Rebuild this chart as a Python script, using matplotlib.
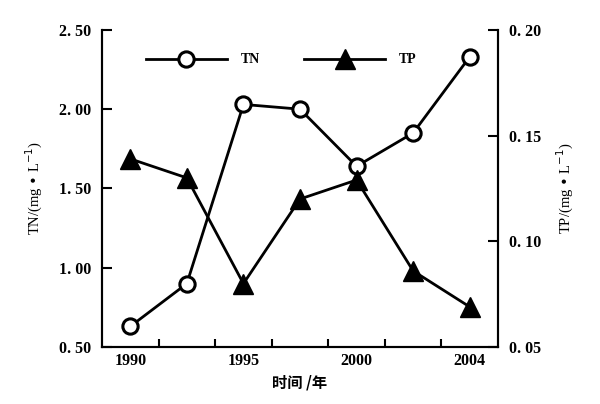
import matplotlib
matplotlib.use("Agg")
import matplotlib.pyplot as plt

years = ["1990", "", "1995", "", "2000", "", "2004"]
tn = [0.63, 0.90, 2.03, 2.00, 1.64, 1.85, 2.33]
tp = [0.139, 0.130, 0.080, 0.120, 0.129, 0.086, 0.069]
tn_ticks = [0.5, 1.0, 1.5, 2.0, 2.5]
tn_labels = ["0. 50", "1. 00", "1. 50", "2. 00", "2. 50"]
tp_ticks = [0.05, 0.10, 0.15, 0.20]
tp_labels = ["0. 05", "0. 10", "0. 15", "0. 20"]

plt.rcParams["font.family"] = ["Liberation Serif", "Noto Sans CJK SC"]

fig = plt.figure(figsize=(6, 4.04), dpi=100)
ax = fig.add_axes([0.17, 0.141, 0.66, 0.785])
ax2 = ax.twinx()

x = list(range(len(tn)))
l1, = ax.plot(x, tn, "k-", lw=2, marker="o", ms=11, mfc="white", mec="black", mew=2.2)
l2, = ax2.plot(x, tp, "k-", lw=2, marker="^", ms=14, mfc="black", mec="black")

ax.set_xlim(-0.5, 6.5)
ax.set_ylim(0.5, 2.5)
ax2.set_ylim(0.05, 0.20)

ax.set_xticks(x)
ax.set_xticklabels(years, fontsize=11.5, fontweight="bold")
ax.tick_params(axis="x", which="major", length=0, pad=4)
ax.set_xticks([i + 0.5 for i in range(6)], minor=True)
ax.tick_params(axis="x", which="minor", direction="in", length=6, width=1.5)

ax.set_yticks(tn_ticks)
ax.set_yticklabels(tn_labels, fontsize=11.5, fontweight="bold")
ax.tick_params(axis="y", direction="in", length=7, width=1.5, pad=8)
ax2.set_yticks(tp_ticks)
ax2.set_yticklabels(tp_labels, fontsize=11.5, fontweight="bold")
ax2.tick_params(axis="y", direction="in", length=7, width=1.5, pad=8)

for a in (ax, ax2):
    a.spines["top"].set_visible(False)
    for s in ("left", "right", "bottom"):
        a.spines[s].set_linewidth(1.5)

ax.set_ylabel("TN/(mg • L$^{-1}$)", fontsize=10.5, labelpad=10)
ax2.set_ylabel("TP/(mg • L$^{-1}$)", fontsize=10.5, labelpad=10)
ax.set_xlabel("时间 /年", fontsize=11, fontweight="bold", family="Noto Sans CJK SC", labelpad=4)

leg = ax.legend([l1, l2], ["TN", "TP"], loc="upper left", bbox_to_anchor=(0.08, 0.965),
                ncol=2, frameon=False, handlelength=5.8, handletextpad=1.0,
                columnspacing=3.2, prop={"weight": "bold", "size": 10})

fig.savefig("out.png", dpi=100)
